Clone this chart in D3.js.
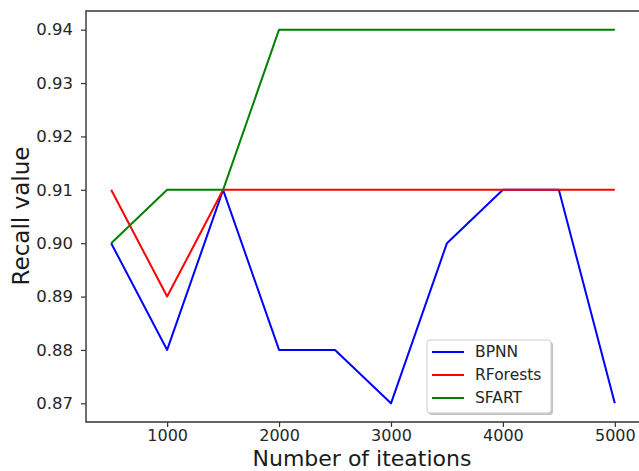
<!DOCTYPE html>
<html>
<head>
<meta charset="utf-8">
<script src="https://cdn.jsdelivr.net/npm/d3@7"></script>
<style>
  body { margin: 0; background: #fff; }
  svg { font-family: "DejaVu Sans", sans-serif; }
</style>
</head>
<body>
<svg id="chart" width="639" height="471"></svg>
<script>
// data
const iterations = [500, 1000, 1500, 2000, 2500, 3000, 3500, 4000, 4500, 5000];
const bpnn     = [0.90, 0.88, 0.91, 0.88, 0.88, 0.87, 0.90, 0.91, 0.91, 0.87];
const rforests = [0.91, 0.89, 0.91, 0.91, 0.91, 0.91, 0.91, 0.91, 0.91, 0.91];
const sfart    = [0.90, 0.91, 0.91, 0.94, 0.94, 0.94, 0.94, 0.94, 0.94, 0.94];
const xTicks = [1000, 2000, 3000, 4000, 5000];
const yTicks = [0.87, 0.88, 0.89, 0.90, 0.91, 0.92, 0.93, 0.94];

const series = [
  { name: "BPNN", values: bpnn, color: "#0000ff" },
  { name: "RForests", values: rforests, color: "#ff0000" },
  { name: "SFART", values: sfart, color: "#008000" }
];

const svg = d3.select("#chart");
const plot = { left: 86, right: 640, top: 11, bottom: 422 };

const x = d3.scaleLinear().domain([275, 5225]).range([plot.left, plot.right]);
const y = d3.scaleLinear().domain([0.8665, 0.9435]).range([plot.bottom, plot.top]);

// lines
const line = d3.line()
  .x((d, i) => x(iterations[i]))
  .y(d => y(d));

svg.selectAll("path.series")
  .data(series)
  .enter().append("path")
  .attr("class", "series")
  .attr("fill", "none")
  .attr("stroke", d => d.color)
  .attr("stroke-width", 2)
  .attr("stroke-linejoin", "round")
  .attr("d", d => line(d.values));

// axes
const xAxis = svg.append("g")
  .attr("transform", `translate(0,${plot.bottom})`)
  .call(d3.axisBottom(x).tickValues(xTicks).tickSize(5).tickPadding(2.5).tickFormat(d3.format("d")));
const yAxis = svg.append("g")
  .attr("transform", `translate(${plot.left},0)`)
  .call(d3.axisLeft(y).tickValues(yTicks).tickSize(5).tickPadding(8).tickFormat(d3.format(".2f")));

[xAxis, yAxis].forEach(g => {
  g.select(".domain").remove();
  g.selectAll(".tick line").attr("stroke", "#333").attr("stroke-width", 1.2);
  g.selectAll(".tick text")
    .attr("fill", "#262626")
    .style("font-size", "16.5px")
    .style("font-family", "DejaVu Sans");
});
xAxis.selectAll(".tick text").style("font-size", "16px");

// spines
svg.append("path")
  .attr("d", `M${plot.left},${plot.top}H${plot.right}V${plot.bottom}H${plot.left}Z`)
  .attr("fill", "none")
  .attr("stroke", "#333")
  .attr("stroke-width", 1.4);

// axis labels
svg.append("text")
  .attr("x", 362)
  .attr("y", 465.5)
  .attr("text-anchor", "middle")
  .attr("fill", "#1a1a1a")
  .style("font-size", "22px")
  .text("Number of iteations");

svg.append("text")
  .attr("transform", `translate(29,216) rotate(-90)`)
  .attr("text-anchor", "middle")
  .attr("fill", "#1a1a1a")
  .style("font-size", "23px")
  .text("Recall value");

// legend
const lg = svg.append("g").attr("transform", "translate(427,340)");
lg.append("rect")
  .attr("x", 2).attr("y", 2)
  .attr("width", 124).attr("height", 73)
  .attr("rx", 3)
  .attr("fill", "#888").attr("opacity", 0.5);
lg.append("rect")
  .attr("width", 124).attr("height", 73)
  .attr("rx", 3)
  .attr("fill", "#fff")
  .attr("stroke", "#ccc");

const item = lg.selectAll("g.item")
  .data(series)
  .enter().append("g")
  .attr("class", "item")
  .attr("transform", (d, i) => `translate(0,${12 + i * 23})`);
item.append("line")
  .attr("x1", 5).attr("x2", 37)
  .attr("stroke", d => d.color)
  .attr("stroke-width", 2);
item.append("text")
  .attr("x", 48)
  .attr("dy", "0.35em")
  .attr("fill", "#262626")
  .style("font-size", "15.5px")
  .text(d => d.name);
</script>
</body>
</html>
